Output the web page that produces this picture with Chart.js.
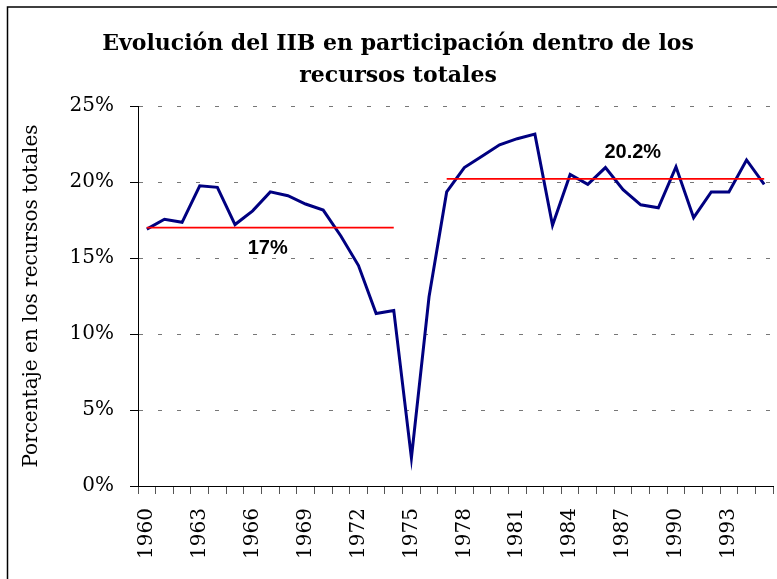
<!DOCTYPE html>
<html lang="es">
<head>
    <meta charset="UTF-8">
    <title>Evolución del IIB</title>
    <script src="https://cdn.jsdelivr.net/npm/chart.js"></script>
    <style>
        body, html {
            margin: 0;
            padding: 0;
            background: #fff;
        }
        #wrap {
            width: 777px;
            height: 579px;
            position: relative;
        }
    </style>
</head>
<body>

<div id="wrap">
    <canvas id="iibChart" width="777" height="579"></canvas>
</div>

<script>
    // Años y participación del IIB (%)
    const years = [
        '1960', '1961', '1962', '1963', '1964', '1965', '1966', '1967', '1968', '1969',
        '1970', '1971', '1972', '1973', '1974', '1975', '1976', '1977', '1978', '1979',
        '1980', '1981', '1982', '1983', '1984', '1985', '1986', '1987', '1988', '1989',
        '1990', '1991', '1992', '1993', '1994', '1995'
    ];
    const participacion = [
        16.9, 17.55, 17.35, 19.75, 19.65, 17.2, 18.1, 19.35, 19.1, 18.55,
        18.15, 16.45, 14.5, 11.35, 11.55, 1.85, 12.45, 19.35, 20.95, 21.7,
        22.45, 22.85, 23.15, 17.15, 20.5, 19.85, 20.95, 19.5, 18.5, 18.3,
        21.0, 17.65, 19.35, 19.35, 21.45, 19.85
    ];
    // Promedios por periodo
    const promedio1960_74 = [
        17, 17, 17, 17, 17, 17, 17, 17, 17, 17,
        17, 17, 17, 17, 17, null, null, null, null, null,
        null, null, null, null, null, null, null, null, null, null,
        null, null, null, null, null, null
    ];
    const promedio1977_95 = [
        null, null, null, null, null, null, null, null, null, null,
        null, null, null, null, null, null, null, 20.2, 20.2, 20.2,
        20.2, 20.2, 20.2, 20.2, 20.2, 20.2, 20.2, 20.2, 20.2, 20.2,
        20.2, 20.2, 20.2, 20.2, 20.2, 20.2
    ];
    const tickYears = ['1960', '1963', '1966', '1969', '1972', '1975', '1978', '1981', '1984', '1987', '1990', '1993'];
    const yTicks = [0, 5, 10, 15, 20, 25];
    // etiquetas de los promedios: [texto, posición en el eje x (índice), valor]
    const etiquetas = [
        ['17%', 6.85, 15.6],
        ['20.2%', 27.55, 21.95]
    ];
    const titulo = ['Evolución del IIB en participación dentro de los', 'recursos totales'];

    // titulo y marco
    const decoPlugin = {
        id: 'deco',
        beforeDraw(chart) {
            const ctx = chart.ctx;
            ctx.save();
            ctx.strokeStyle = '#000';
            ctx.lineWidth = 1.5;
            ctx.strokeRect(7.5, 7, 800, 620);
            ctx.fillStyle = '#000';
            ctx.font = 'bold 22px "DejaVu Serif"';
            ctx.textAlign = 'center';
            ctx.textBaseline = 'alphabetic';
            ctx.fillText(titulo[0], 398, 50);
            ctx.fillText(titulo[1], 398, 82);
            ctx.restore();
        },
        afterDatasetsDraw(chart) {
            const ctx = chart.ctx;
            const xs = chart.scales.x, ys = chart.scales.y;
            ctx.save();
            ctx.fillStyle = '#000';
            ctx.textAlign = 'center';
            ctx.textBaseline = 'middle';
            ctx.font = 'bold 20px "Liberation Sans"';
            etiquetas.forEach(e => {
                ctx.fillText(e[0], xs.getPixelForValue(e[1]), ys.getPixelForValue(e[2]));
            });
            ctx.restore();
        }
    };

    const ctx = document.getElementById('iibChart').getContext('2d');
    new Chart(ctx, {
        type: 'line',
        data: {
            labels: years,
            datasets: [
                {
                    label: 'Promedio 1960-1974',
                    data: promedio1960_74,
                    borderColor: '#ff0000',
                    borderWidth: 1.8,
                    pointRadius: 0,
                    spanGaps: false,
                    order: 0
                },
                {
                    label: 'Promedio 1977-1995',
                    data: promedio1977_95,
                    borderColor: '#ff0000',
                    borderWidth: 1.8,
                    pointRadius: 0,
                    spanGaps: false,
                    order: 0
                },
                {
                    label: 'Participación del IIB',
                    data: participacion,
                    borderColor: '#000080',
                    borderWidth: 3,
                    pointRadius: 0,
                    tension: 0,
                    order: 1
                }
            ]
        },
        options: {
            responsive: false,
            animation: false,
            layout: {
                padding: { top: 106, right: 4, left: 0, bottom: 0 }
            },
            plugins: {
                legend: { display: false },
                tooltip: { enabled: false }
            },
            scales: {
                x: {
                    offset: true,
                    afterFit: function(scale) {
                        scale.height = 93;
                        scale.paddingLeft = 0;
                        scale.paddingRight = 0;
                    },
                    grid: {
                        offset: true,
                        drawOnChartArea: false,
                        drawTicks: true,
                        tickLength: 8,
                        color: '#555'
                    },
                    border: { color: '#000', width: 1 },
                    ticks: {
                        autoSkip: false,
                        maxRotation: 90,
                        minRotation: 90,
                        padding: 14,
                        color: '#000',
                        font: { family: 'DejaVu Serif', size: 20 },
                        callback: function(value) {
                            const lab = this.getLabelForValue(value);
                            return tickYears.includes(lab) ? lab : '';
                        }
                    }
                },
                y: {
                    min: 0,
                    max: 25,
                    afterFit: function(scale) { scale.width = 138; },
                    afterBuildTicks: function(scale) {
                        scale.ticks = yTicks.map(v => ({ value: v }));
                    },
                    grid: {
                        color: '#777',
                        tickColor: '#000',
                        tickLength: 8,
                        tickBorderDash: [],
                        lineWidth: 1
                    },
                    border: { color: '#000', width: 1, dash: [4, 15] },
                    ticks: {
                        padding: 16,
                        color: '#000',
                        font: { family: 'DejaVu Serif', size: 20 },
                        callback: function(value) { return value + '%'; }
                    },
                    title: {
                        display: true,
                        text: 'Porcentaje en los recursos totales',
                        color: '#000',
                        font: { family: 'DejaVu Serif', size: 20 },
                        padding: { top: 20, bottom: 0 }
                    }
                }
            }
        },
        plugins: [decoPlugin]
    });
</script>

</body>
</html>
